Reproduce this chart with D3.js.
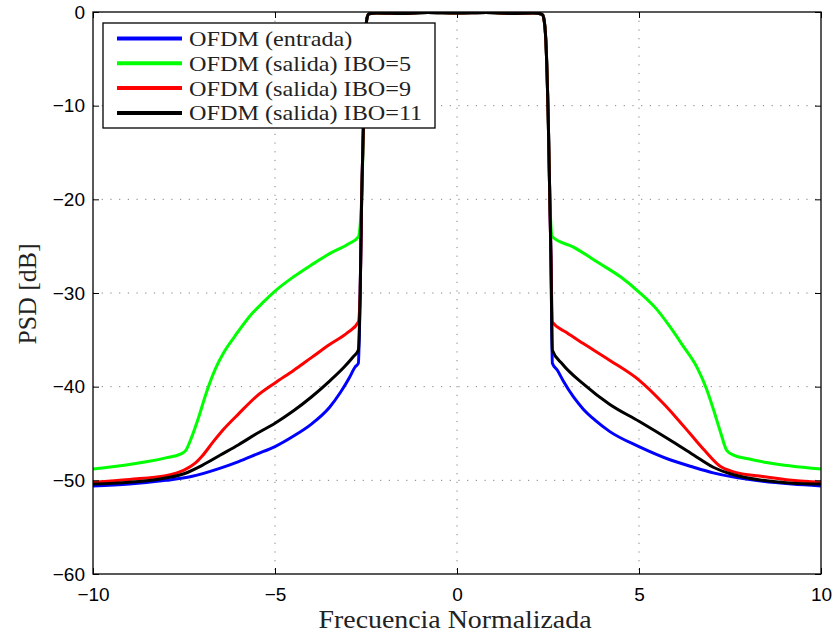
<!DOCTYPE html>
<html lang="es">
<head>
<meta charset="UTF-8">
<script src="https://d3js.org/d3.v7.min.js"></script>
<title>PSD OFDM</title>
<style>
  body { margin: 0; background: white; }
  .tick text { font-family: "Liberation Sans", Arial, sans-serif; font-size: 19px; }
  .serif { font-family: "Liberation Serif", "DejaVu Serif", serif; fill: #222; }
</style>
</head>
<body>
<div id="chart"></div>
<script>
  // skirts of each spectrum (left part f<0, then right part f>0)
  var entradaF  = [-10, -9, -8, -7.3, -6.5, -6, -5.5, -5, -4.5, -4, -3.5, -3.2, -2.95, -2.8, -2.71,
                   2.62, 2.75, 2.92, 3.2, 3.47, 3.8, 4.2, 5, 5.85, 6.5, 7.04, 8.4, 9.2, 10];
  var entradaDb = [-50.6, -50.4, -50.0, -49.6, -48.7, -48.0, -47.2, -46.4, -45.3, -44.0, -42.2, -40.6, -39.0, -37.9, -37.5,
                   -37.5, -38.2, -39.4, -41.1, -42.4, -43.6, -44.8, -46.4, -47.8, -48.6, -49.2, -50.1, -50.4, -50.6];

  var ibo5F  = [-10, -9, -8.5, -8, -7.6, -7.45, -7.3, -7.1, -6.9, -6.65, -6.4, -6.1, -5.7, -5.3, -5, -4.5, -4, -3.5, -3, -2.71,
                2.62, 3.2, 3.9, 4.5, 5, 5.5, 5.85, 6.2, 6.6, 6.85, 7.05, 7.25, 7.41, 7.6, 8, 8.5, 9, 9.5, 10];
  var ibo5Db = [-48.8, -48.3, -48.0, -47.6, -47.2, -46.8, -45.5, -43.3, -40.8, -38.2, -36.3, -34.6, -32.5, -30.9, -29.8, -28.3, -27.0, -25.8, -24.8, -24.0,
                -24.0, -25.1, -26.8, -28.3, -29.9, -31.8, -33.6, -35.6, -38.0, -40.2, -42.5, -45.0, -46.8, -47.3, -47.7, -48.1, -48.4, -48.6, -48.8];

  var ibo9F  = [-10, -9, -8, -7.5, -7.2, -7, -6.7, -6.4, -6, -5.5, -5, -4.5, -4, -3.5, -3, -2.71,
                2.62, 3, 3.47, 4.2, 5, 5.67, 6, 6.4, 6.8, 7.23, 7.6, 8.4, 9.2, 10];
  var ibo9Db = [-50.2, -49.9, -49.5, -48.9, -48.2, -47.4, -45.9, -44.5, -42.9, -41.0, -39.6, -38.3, -36.9, -35.5, -34.2, -33.1,
                -33.1, -34.2, -35.4, -37.2, -39.3, -41.8, -43.2, -45.0, -46.8, -48.5, -49.1, -49.6, -50.0, -50.2];

  var ibo11F  = [-10, -9, -8.25, -7.5, -7, -6.5, -6, -5.5, -5, -4.5, -4, -3.5, -3.1, -2.85, -2.71,
                 2.62, 2.9, 3.47, 4.2, 5, 5.85, 6.5, 7.04, 7.6, 8.4, 9.2, 10];
  var ibo11Db = [-50.4, -50.2, -49.9, -49.3, -48.4, -47.3, -46.2, -45.0, -43.9, -42.6, -41.1, -39.4, -37.9, -36.8, -36.1,
                 -36.1, -37.6, -39.7, -41.9, -43.7, -45.7, -47.3, -48.6, -49.4, -50.0, -50.3, -50.4];

  // shared passband (same for all four curves)
  var passF  = [-2.66, -2.62, -2.57, -2.52, -2.47, -2.42, -2.2, -1.5, -0.8, 0, 0.8, 1.5, 2.1, 2.34, 2.38, 2.44, 2.51, 2.55, 2.58];
  var passDb = [-30, -20, -12, -3, -0.6, -0.2, -0.1, -0.15, -0.05, -0.1, -0.05, -0.15, -0.1, -0.25, -0.6, -3, -12, -20, -26];

  var seriesNames  = ["OFDM (entrada)", "OFDM (salida) IBO=5", "OFDM (salida) IBO=9", "OFDM (salida) IBO=11"];
  var seriesColors = ["#0000ff", "#00ff00", "#ff0000", "#000000"];
  var seriesF  = [entradaF, ibo5F, ibo9F, ibo11F];
  var seriesDb = [entradaDb, ibo5Db, ibo9Db, ibo11Db];

  var xTicks = [-10, -5, 0, 5, 10];
  var yTicks = [0, -10, -20, -30, -40, -50, -60];

  var W = 833, H = 637;
  var margin = { top: 12, right: 12, bottom: 63, left: 93 },
      width = W - margin.left - margin.right,
      height = H - margin.top - margin.bottom;

  var svg = d3.select("#chart").append("svg")
    .attr("width", W).attr("height", H);
  var g = svg.append("g")
    .attr("transform", "translate(" + margin.left + "," + margin.top + ")");

  var x = d3.scaleLinear().domain([-10, 10]).range([0, width]);
  var y = d3.scaleLinear().domain([-60, 0]).range([height, 0]);

  var fmt = d => d < 0 ? "\u2212" + Math.abs(d) : String(d);

  // dotted grid
  g.append("g").selectAll("line").data(xTicks.slice(1, -1)).join("line")
    .attr("x1", d => x(d)).attr("x2", d => x(d)).attr("y1", 0).attr("y2", height)
    .attr("stroke", "#808080").attr("stroke-dasharray", "1.2,7.5");
  g.append("g").selectAll("line").data(yTicks.slice(1, -1)).join("line")
    .attr("y1", d => y(d)).attr("y2", d => y(d)).attr("x1", 0).attr("x2", width)
    .attr("stroke", "#808080").attr("stroke-dasharray", "1.2,7.5");

  // curves
  var line = d3.line().x(d => x(d[0])).y(d => y(d[1])).curve(d3.curveMonotoneX);
  g.append("defs").append("clipPath").attr("id", "clip")
    .append("rect").attr("width", width).attr("height", height);
  seriesNames.forEach(function(name, i) {
    var pts = seriesF[i].map((f, j) => [f, seriesDb[i][j]]);
    var left = pts.filter(p => p[0] < 0), right = pts.filter(p => p[0] > 0);
    var mid = passF.map((f, j) => [f, passDb[j]]).filter(p => p[1] > Math.max(left[left.length - 1][1], right[0][1]) - 1);
    g.append("path").datum(left.concat(mid, right))
      .attr("clip-path", "url(#clip)")
      .attr("fill", "none")
      .attr("stroke", seriesColors[i])
      .attr("stroke-width", 3)
      .attr("stroke-linejoin", "round")
      .attr("d", line);
  });

  // axes (box with inward ticks)
  var tk = 6;
  g.append("g").attr("transform", "translate(0," + height + ")")
    .call(d3.axisBottom(x).tickValues(xTicks).tickFormat(fmt).tickSizeInner(-tk).tickSizeOuter(0).tickPadding(12))
    .call(a => a.select(".domain").remove())
    .selectAll("text").attr("dy", "0.8em");
  g.append("g")
    .call(d3.axisTop(x).tickValues(xTicks).tickFormat("").tickSizeInner(-tk).tickSizeOuter(0))
    .call(a => a.select(".domain").remove());
  g.append("g")
    .call(d3.axisLeft(y).tickValues(yTicks).tickFormat(fmt).tickSizeInner(-tk).tickSizeOuter(0).tickPadding(8))
    .call(a => a.select(".domain").remove());
  g.append("g").attr("transform", "translate(" + width + ",0)")
    .call(d3.axisRight(y).tickValues(yTicks).tickFormat("").tickSizeInner(-tk).tickSizeOuter(0))
    .call(a => a.select(".domain").remove());
  g.selectAll(".tick line").attr("stroke", "#000");
  g.selectAll(".tick text").attr("fill", "#000");
  g.append("rect").attr("width", width).attr("height", height)
    .attr("fill", "none").attr("stroke", "#000").attr("stroke-width", 1.3);

  // axis labels
  svg.append("text").attr("class", "serif")
    .attr("x", margin.left + width / 2 - 2).attr("y", 628)
    .attr("text-anchor", "middle")
    .attr("textLength", 273).attr("lengthAdjust", "spacingAndGlyphs")
    .style("font-size", "25px")
    .text("Frecuencia Normalizada");
  svg.append("text").attr("class", "serif")
    .attr("transform", "translate(36,294) rotate(-90)")
    .attr("text-anchor", "middle")
    .attr("textLength", 101).attr("lengthAdjust", "spacingAndGlyphs")
    .style("font-size", "25px")
    .text("PSD [dB]");

  // legend
  var lg = svg.append("g").attr("transform", "translate(103,23)");
  lg.append("rect").attr("width", 332).attr("height", 105)
    .attr("fill", "#fff").attr("stroke", "#000").attr("stroke-width", 1.3);
  seriesNames.forEach(function(name, i) {
    var yy = 15.5 + i * 24.8;
    lg.append("line").attr("x1", 14).attr("x2", 79).attr("y1", yy).attr("y2", yy)
      .attr("stroke", seriesColors[i]).attr("stroke-width", 4);
    var t = lg.append("text").attr("class", "serif").attr("x", 86).attr("y", yy + 7.5)
      .style("font-size", "22px")
      .text(name);
    t.attr("textLength", t.node().getComputedTextLength() * 1.1).attr("lengthAdjust", "spacingAndGlyphs");
  });
</script>
</body>
</html>
